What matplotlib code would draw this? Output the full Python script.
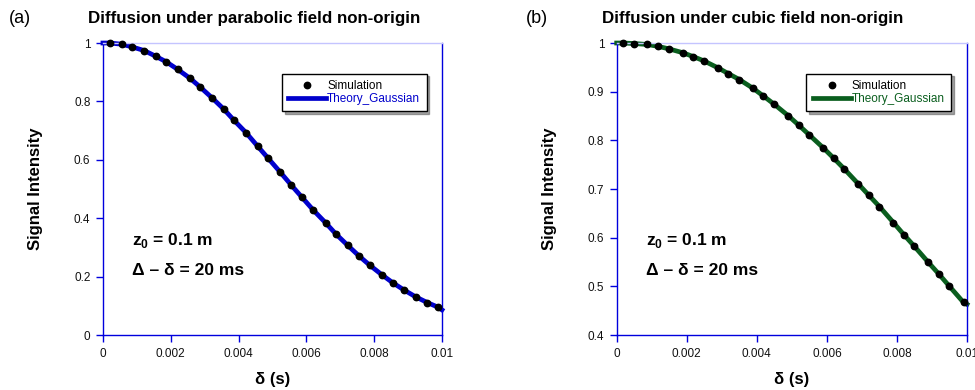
import matplotlib
matplotlib.use("Agg")
import matplotlib.pyplot as plt

plt.rcParams['font.family'] = ['Liberation Sans', 'DejaVu Sans']
plt.rcParams['mathtext.fontset'] = 'custom'
plt.rcParams['mathtext.rm'] = 'Liberation Sans'
plt.rcParams['mathtext.bf'] = 'Liberation Sans:bold'

# (a) parabolic field
sim_x_a = [0.0002, 0.00055, 0.00085, 0.00122, 0.00155, 0.00186, 0.0022, 0.00257,
           0.00286, 0.00321, 0.00356, 0.00386, 0.00422, 0.00456, 0.00486, 0.00522,
           0.00555, 0.00586, 0.00621, 0.00657, 0.00687, 0.00722, 0.00756, 0.00787,
           0.00822, 0.00856, 0.00887, 0.00922, 0.00957, 0.00987]
sim_y_a = [1.0, 0.996, 0.987, 0.974, 0.955, 0.936, 0.910, 0.879, 0.850, 0.813,
           0.774, 0.736, 0.693, 0.647, 0.607, 0.559, 0.514, 0.473, 0.427, 0.384,
           0.346, 0.307, 0.270, 0.239, 0.207, 0.178, 0.155, 0.131, 0.111, 0.096]
theory_x_a = [0.0] + sim_x_a + [0.01]
theory_y_a = [1.0] + sim_y_a + [0.086]

# (b) cubic field
sim_x_b = [0.00018, 0.00049, 0.00087, 0.00119, 0.00149, 0.00189, 0.00219, 0.0025,
           0.00289, 0.00319, 0.0035, 0.00389, 0.00419, 0.0045, 0.00489, 0.0052,
           0.0055, 0.00589, 0.0062, 0.0065, 0.00689, 0.0072, 0.0075, 0.0079,
           0.0082, 0.0085, 0.0089, 0.0092, 0.0095, 0.0099]
sim_y_b = [1.0, 0.999, 0.997, 0.993, 0.988, 0.980, 0.972, 0.963, 0.949, 0.937,
           0.925, 0.907, 0.891, 0.874, 0.851, 0.831, 0.811, 0.785, 0.763, 0.741,
           0.711, 0.687, 0.664, 0.631, 0.606, 0.582, 0.549, 0.525, 0.500, 0.467]
theory_x_b = [0.0] + sim_x_b + [0.01]
theory_y_b = [1.0] + sim_y_b + [0.463]

x_ticks = [0, 0.002, 0.004, 0.006, 0.008, 0.01]
x_labels = ["0", "0.002", "0.004", "0.006", "0.008", "0.01"]
y_ticks_a = [0, 0.2, 0.4, 0.6, 0.8, 1]
y_labels_a = ["0", "0.2", "0.4", "0.6", "0.8", "1"]
y_ticks_b = [0.4, 0.5, 0.6, 0.7, 0.8, 0.9, 1]
y_labels_b = ["0.4", "0.5", "0.6", "0.7", "0.8", "0.9", "1"]

spine_col = "#0000dd"

fig = plt.figure(figsize=(9.75, 3.9), dpi=100)
ax_a = fig.add_axes([0.1056, 0.141, 0.3477, 0.7487])
ax_b = fig.add_axes([0.6325, 0.141, 0.3593, 0.7487])

panels = [
    (ax_a, sim_x_a, sim_y_a, theory_x_a, theory_y_a, "#0000cc", (0, 1),
     y_ticks_a, y_labels_a, "(a)", 0.009, "Diffusion under parabolic field non-origin", 0.090),
    (ax_b, sim_x_b, sim_y_b, theory_x_b, theory_y_b, "#0a5e1e", (0.4, 1),
     y_ticks_b, y_labels_b, "(b)", 0.539, "Diffusion under cubic field non-origin", 0.617),
]

for ax, sx, sy, tx, ty, col, ylim, yt, yl, tag, tag_x, title, title_x in panels:
    ax.plot(tx, ty, color=col, lw=3.4, label="Theory_Gaussian", clip_on=False, zorder=2)
    ax.plot(sx, sy, "o", color="black", ms=4.6, label="Simulation", clip_on=False, zorder=3)
    ax.set_xlim(0, 0.01)
    ax.set_ylim(*ylim)
    ax.set_xticks(x_ticks)
    ax.set_xticklabels(x_labels)
    ax.set_yticks(yt)
    ax.set_yticklabels(yl)
    for side in ["left", "bottom", "right"]:
        ax.spines[side].set_color(spine_col)
        ax.spines[side].set_linewidth(1.0)
    ax.spines["top"].set_color("#c4c4ff")
    ax.spines["top"].set_linewidth(1.0)
    ax.tick_params(direction="out", length=5, width=1.0, color=spine_col,
                   labelsize=8.5, labelcolor="#111111", pad=4)
    ax.set_xlabel("δ (s)", fontsize=12, fontweight="bold", labelpad=9)
    ax.set_ylabel("Signal Intensity", fontsize=12, fontweight="bold", labelpad=22)

    handles, labels = ax.get_legend_handles_labels()
    leg = ax.legend(handles[::-1], labels[::-1], loc="upper right",
                    bbox_to_anchor=(0.955, 0.895), fontsize=8.5, frameon=True,
                    fancybox=False, shadow=True, handlelength=3.2, handletextpad=0.1,
                    borderpad=0.55, labelspacing=0.05, borderaxespad=0)
    leg.get_frame().set_edgecolor("black")
    leg.get_frame().set_linewidth(1.0)
    leg.get_texts()[1].set_color(col)

    ax.text(0.085, 0.325, r"$\mathbf{z}_\mathbf{0}$ = 0.1 m", transform=ax.transAxes,
            fontsize=12.5, fontweight="bold", va="center")
    ax.text(0.085, 0.22, "Δ – δ = 20 ms", transform=ax.transAxes,
            fontsize=12.5, fontweight="bold", va="center")

    fig.text(tag_x, 0.952, tag, fontsize=13, va="center")
    fig.text(title_x, 0.952, title, fontsize=12.2, fontweight="bold", va="center")

fig.savefig("out.png", dpi=100)
